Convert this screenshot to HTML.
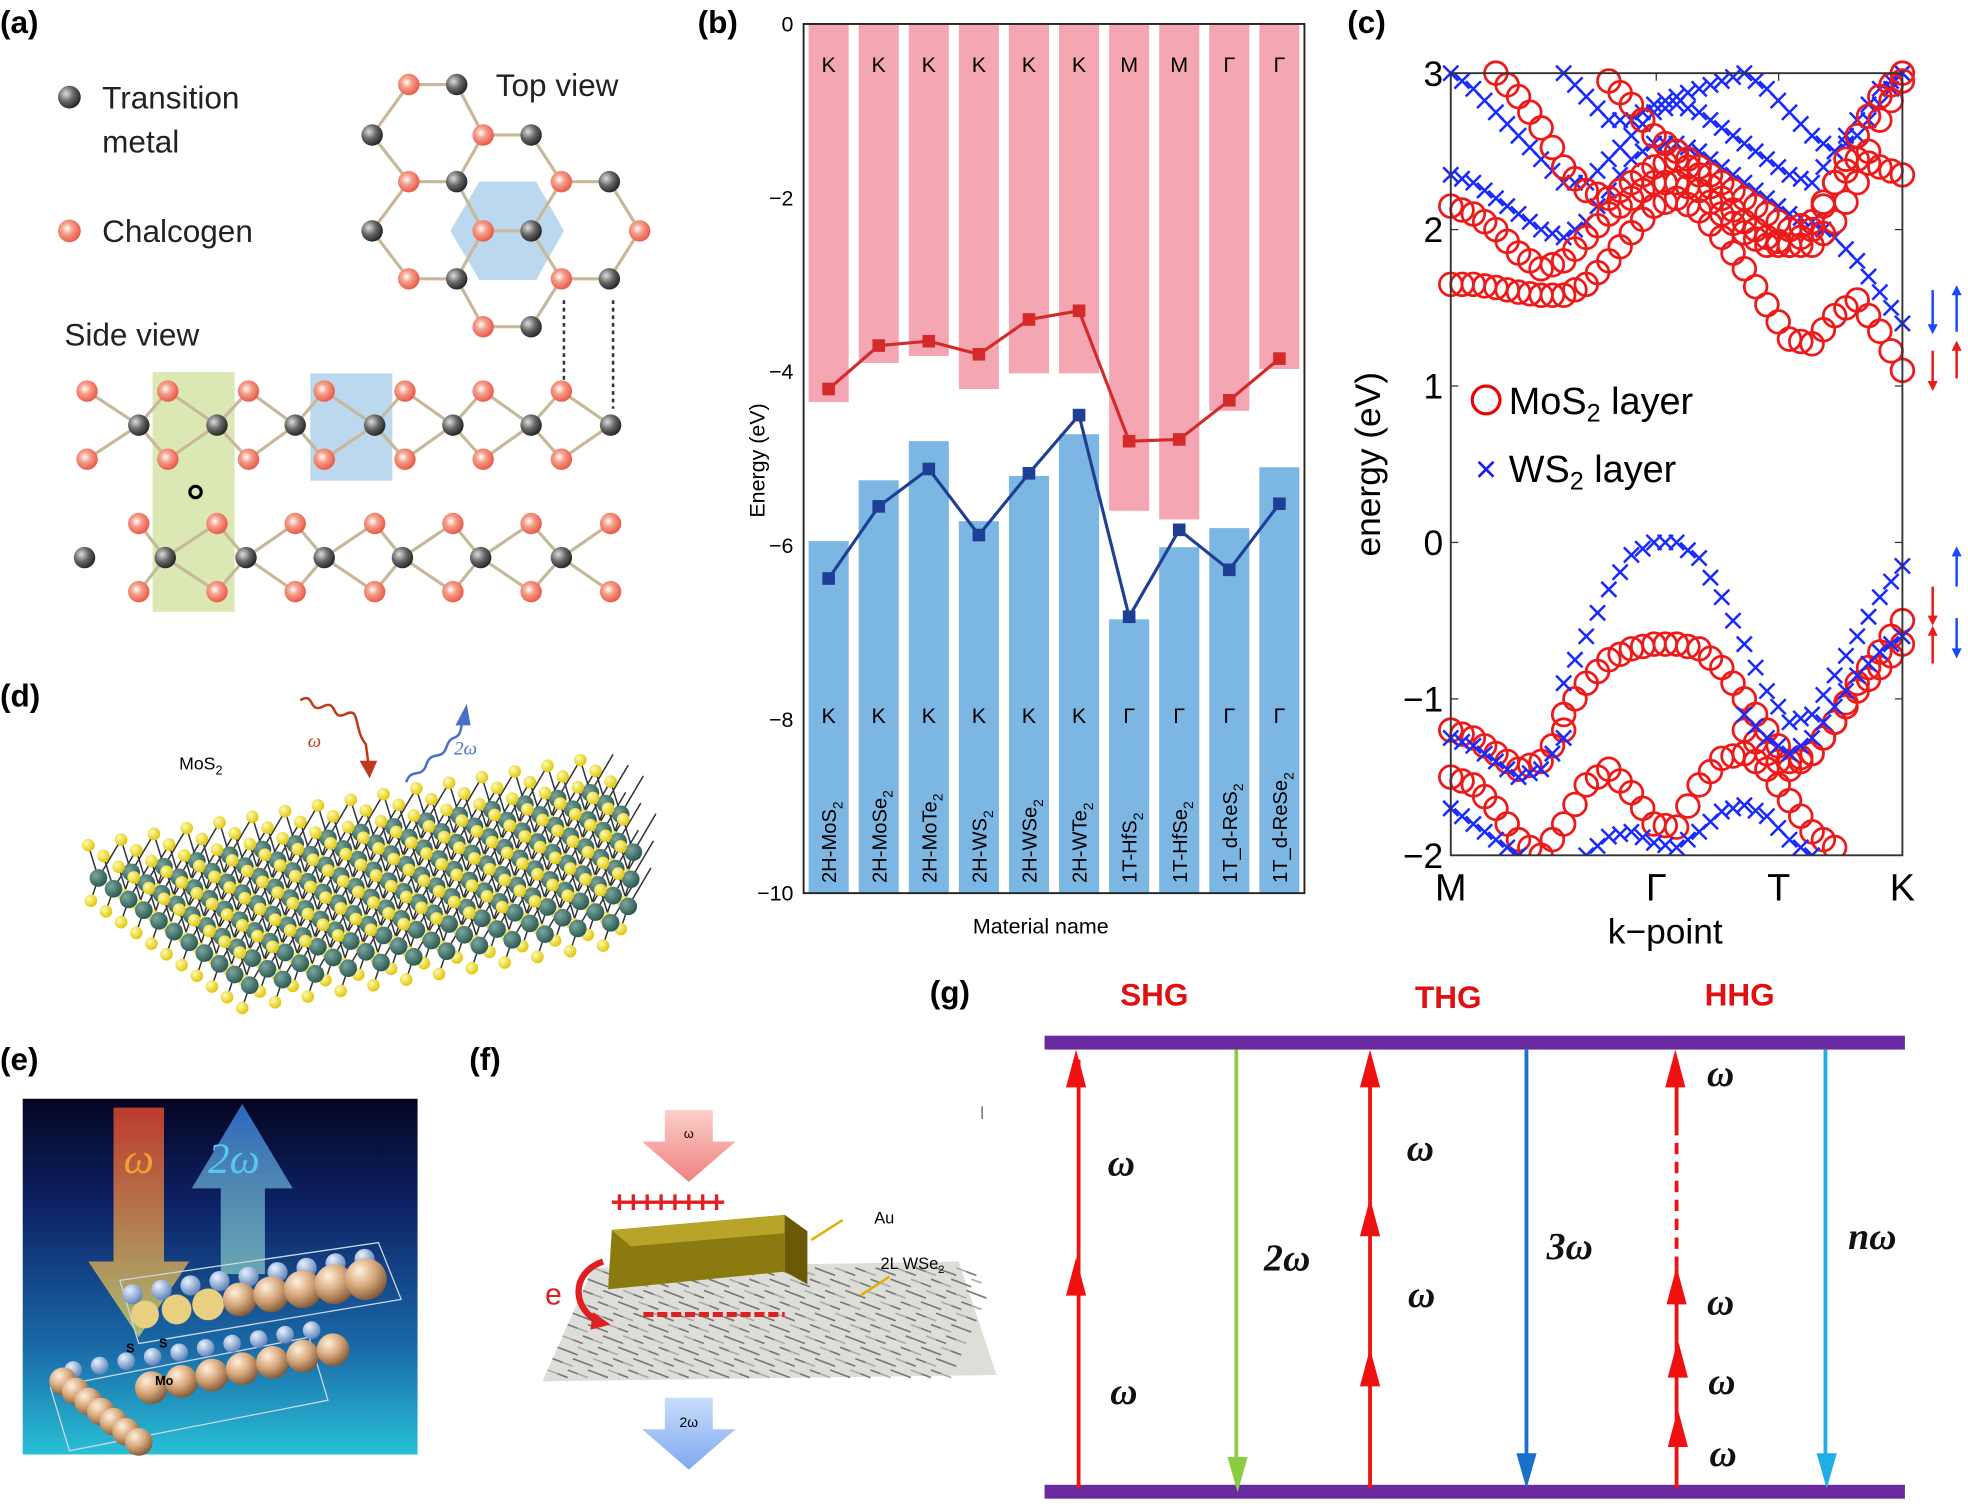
<!DOCTYPE html>
<html><head><meta charset="utf-8"><style>
html,body{margin:0;padding:0;background:#fff;}
svg{display:block;font-family:"Liberation Sans",sans-serif;}
</style></head><body>
<svg id="fig" width="1968" height="1507" viewBox="0 0 1560 1194.6" preserveAspectRatio="none" xmlns="http://www.w3.org/2000/svg">
<defs>
<radialGradient id="gBlack" cx="0.35" cy="0.35" r="0.7"><stop offset="0" stop-color="#ddd"/><stop offset="0.5" stop-color="#666"/><stop offset="1" stop-color="#222"/></radialGradient>
<radialGradient id="gRed" cx="0.4" cy="0.4" r="0.7"><stop offset="0" stop-color="#fff"/><stop offset="0.35" stop-color="#f4a08a"/><stop offset="1" stop-color="#e8483a"/></radialGradient>
<radialGradient id="gYel" cx="0.35" cy="0.35" r="0.7"><stop offset="0" stop-color="#fffbb0"/><stop offset="1" stop-color="#e0c400"/></radialGradient>
<radialGradient id="gTeal" cx="0.35" cy="0.35" r="0.7"><stop offset="0" stop-color="#7aa8a0"/><stop offset="1" stop-color="#2a5550"/></radialGradient>
<radialGradient id="gTan" cx="0.35" cy="0.3" r="0.75"><stop offset="0" stop-color="#fff0dd"/><stop offset="0.5" stop-color="#d8a87c"/><stop offset="1" stop-color="#7a5535"/></radialGradient>
<radialGradient id="gBlu" cx="0.35" cy="0.3" r="0.75"><stop offset="0" stop-color="#e8f2ff"/><stop offset="1" stop-color="#5a7fb5"/></radialGradient>
<linearGradient id="eBg" x1="0" y1="0" x2="0" y2="1"><stop offset="0" stop-color="#050522"/><stop offset="0.3" stop-color="#0d2266"/><stop offset="0.7" stop-color="#1a6aa8"/><stop offset="1" stop-color="#28c0d6"/></linearGradient>
<linearGradient id="eOr" x1="0" y1="0" x2="0" y2="1"><stop offset="0" stop-color="#d04030" stop-opacity="0.9"/><stop offset="1" stop-color="#e8e060" stop-opacity="0.7"/></linearGradient>
<linearGradient id="eBl" x1="0" y1="1" x2="0" y2="0"><stop offset="0" stop-color="#9ee8d0" stop-opacity="0.6"/><stop offset="1" stop-color="#3070d0" stop-opacity="0.9"/></linearGradient>
<linearGradient id="fPk" x1="0" y1="0" x2="0" y2="1"><stop offset="0" stop-color="#fbd0c8"/><stop offset="1" stop-color="#f08080"/></linearGradient>
<linearGradient id="fBl" x1="0" y1="0" x2="0" y2="1"><stop offset="0" stop-color="#c8dcfb"/><stop offset="1" stop-color="#7eaaf0"/></linearGradient>
</defs>

<!-- ===== Panel (a) ===== -->
<g id="panelA">
<text x="0" y="26" font-size="25" font-weight="bold">(a)</text>
<rect x="121" y="295" width="65" height="190" fill="#dbe8b4"/>
<rect x="246" y="296" width="65" height="85" fill="#bcd8ee"/>
<polygon points="357,183 380,144 425,144 447,183 425,222 380,222" fill="#bcd8ee"/>
<g id="aBonds"></g><g id="aAtoms"></g>
<line x1="447" y1="238" x2="447" y2="301" stroke="#333" stroke-width="2" stroke-dasharray="3,3"/>
<line x1="486" y1="238" x2="486" y2="324" stroke="#333" stroke-width="2" stroke-dasharray="3,3"/>
<circle cx="155" cy="390" r="4.5" fill="none" stroke="#000" stroke-width="2.5"/>
<circle cx="55" cy="77" r="9" fill="url(#gBlack)"/>
<text x="81" y="86" font-size="25" fill="#222">Transition</text>
<text x="81" y="121" font-size="25" fill="#222">metal</text>
<circle cx="55" cy="183" r="9" fill="url(#gRed)"/>
<text x="81" y="192" font-size="25" fill="#222">Chalcogen</text>
<text x="393" y="76" font-size="25" fill="#222">Top view</text>
<text x="51" y="274" font-size="25" fill="#222">Side view</text>
</g>

<!-- ===== Panel (b) ===== -->
<g id="panelB">
<text x="553" y="26" font-size="25" font-weight="bold">(b)</text>
<g id="bPlot"></g>
<text transform="translate(606,365) rotate(-90)" text-anchor="middle" font-size="17">Energy (eV)</text>
<text x="825" y="740" text-anchor="middle" font-size="17">Material name</text>
</g>

<!-- ===== Panel (c) ===== -->
<g id="panelC">
<text x="1068" y="26" font-size="25" font-weight="bold">(c)</text>
<g id="cPlot"></g>
<text transform="translate(1094,368) rotate(-90)" text-anchor="middle" font-size="28">energy (eV)</text>
<text x="1320" y="748" text-anchor="middle" font-size="28">k−point</text>
<g>
<circle cx="1178" cy="317" r="11" fill="none" stroke="#e00" stroke-width="2.5"/>
<text x="1196" y="328" font-size="30">MoS<tspan font-size="20" dy="6">2</tspan><tspan dy="-6"> layer</tspan></text>
<text x="1178" y="382" text-anchor="middle" font-size="30" fill="#1a1aff">×</text>
<text x="1196" y="382" font-size="30">WS<tspan font-size="20" dy="6">2</tspan><tspan dy="-6"> layer</tspan></text>
</g>
<g id="spinArrows"></g>
</g>

<!-- ===== Panel (d) ===== -->
<g id="panelD">
<text x="0" y="560" font-size="25" font-weight="bold">(d)</text>
<g id="dLattice"></g>
<text x="142" y="610" font-size="14">MoS<tspan font-size="10" dy="4">2</tspan></text>
<path d="M238,555 C250,548 244,566 256,560 C268,554 262,572 274,566 C286,560 280,578 290,590 L292,605" fill="none" stroke="#c0391b" stroke-width="2"/>
<polygon points="285,603 299,603 293,617" fill="#c0391b"/>
<path d="M322,620 C326,608 334,618 338,606 C342,594 350,604 354,592 C358,580 364,590 366,574" fill="none" stroke="#4a6fc8" stroke-width="2"/>
<polygon points="361,575 373,575 370,558" fill="#4a6fc8"/>
<text x="244" y="592" font-size="15" font-style="italic" fill="#c0391b" font-family="Liberation Serif,serif">ω</text>
<text x="360" y="598" font-size="15" font-style="italic" fill="#4a6fc8" font-family="Liberation Serif,serif">2ω</text>
</g>

<!-- ===== Panel (e) ===== -->
<g id="panelE">
<text x="0" y="848" font-size="25" font-weight="bold">(e)</text>
<rect x="18" y="871" width="313" height="282" fill="url(#eBg)"/>
<polygon points="90,878 130,878 130,1000 150,1000 110,1060 70,1000 90,1000" fill="url(#eOr)"/>
<polygon points="175,1010 210,1010 210,942 232,942 192,875 152,942 175,942" fill="url(#eBl)"/>
<text x="98" y="930" font-size="34" font-style="italic" fill="#f0a030" font-family="Liberation Serif,serif">ω</text>
<text x="165" y="930" font-size="34" font-style="italic" fill="#58c8f0" font-family="Liberation Serif,serif">2ω</text>
<g id="eBalls"></g>
<text x="100" y="1072" font-size="10" font-weight="bold">S</text>
<text x="126" y="1068" font-size="10" font-weight="bold">S</text>
<text x="123" y="1098" font-size="10" font-weight="bold">Mo</text>
</g>

<!-- ===== Panel (f) ===== -->
<g id="panelF">
<text x="372" y="848" font-size="25" font-weight="bold">(f)</text>
<polygon points="527,880 565,880 565,905 583,905 546,937 509,905 527,905" fill="url(#fPk)"/>
<text x="546" y="902" text-anchor="middle" font-size="10">ω</text>
<text x="484" y="961" font-size="24" font-weight="bold" fill="#e02020" letter-spacing="-3">++++++++</text>
<g id="fSheet"></g>
<polygon points="482,1022 485,975 622,963 622,1008" fill="#8a7a10"/>
<polygon points="485,975 622,963 640,976 500,988" fill="#b8a428"/>
<polygon points="622,963 640,976 640,1018 622,1008" fill="#6a5a08"/>
<line x1="510" y1="1042" x2="622" y2="1042" stroke="#e02020" stroke-width="4" stroke-dasharray="8,3"/>
<text x="432" y="1034" font-size="24" fill="#e02020">e</text>
<path d="M478,1000 C450,1010 455,1040 476,1048" fill="none" stroke="#e02020" stroke-width="5"/>
<polygon points="470,1040 484,1050 468,1054" fill="#e02020"/>
<line x1="668" y1="967" x2="643" y2="983" stroke="#e0b000" stroke-width="2"/>
<text x="693" y="970" font-size="13">Au</text>
<line x1="705" y1="1012" x2="682" y2="1027" stroke="#e0b000" stroke-width="2"/>
<text x="698" y="1006" font-size="13">2L WSe<tspan font-size="9" dy="3">2</tspan></text>
<polygon points="527,1108 565,1108 565,1133 583,1133 546,1165 509,1133 527,1133" fill="url(#fBl)"/>
<text x="546" y="1131" text-anchor="middle" font-size="11">2ω</text>
<rect x="778" y="877" width="1" height="10" fill="#555"/>
</g>

<!-- ===== Panel (g) ===== -->
<g id="panelG">
<text x="737" y="795" font-size="25" font-weight="bold">(g)</text>
<text x="915" y="797" text-anchor="middle" font-size="25" font-weight="bold" fill="#e01010">SHG</text>
<text x="1148" y="799" text-anchor="middle" font-size="25" font-weight="bold" fill="#e01010">THG</text>
<text x="1379" y="797" text-anchor="middle" font-size="25" font-weight="bold" fill="#e01010">HHG</text>
<rect x="828" y="821" width="682" height="11" fill="#6a2aa0"/>
<rect x="828" y="1177" width="682" height="11" fill="#6a2aa0"/>
<g id="gArrows"></g>
<g font-family="Liberation Serif,serif" font-style="italic" font-weight="bold" font-size="30" fill="#111">
<text x="878" y="932">ω</text>
<text x="880" y="1113">ω</text>
<text x="1002" y="1007">2ω</text>
<text x="1115" y="920">ω</text>
<text x="1116" y="1036">ω</text>
<text x="1226" y="998">3ω</text>
<text x="1353" y="861">ω</text>
<text x="1353" y="1042">ω</text>
<text x="1354" y="1105">ω</text>
<text x="1355" y="1162">ω</text>
<text x="1465" y="990">nω</text>
</g>
</g>
</svg>
<script>
var NS='http://www.w3.org/2000/svg';
function mk(tag,attrs,parent){var e=document.createElementNS(NS,tag);for(var k in attrs)e.setAttribute(k,attrs[k]);parent.appendChild(e);return e;}

/* ---------- Panel (b) data ---------- */
var bMaterials=['2H-MoS|2','2H-MoSe|2','2H-MoTe|2','2H-WS|2','2H-WSe|2','2H-WTe|2','1T-HfS|2','1T-HfSe|2','1T_d-ReS|2','1T_d-ReSe|2'];
var bCBBar=[-4.35,-3.9,-3.82,-4.2,-4.02,-4.02,-5.6,-5.7,-4.45,-3.97];
var bVBBar=[-5.95,-5.25,-4.8,-5.72,-5.2,-4.72,-6.85,-6.02,-5.8,-5.1];
var bCBLine=[-4.2,-3.7,-3.65,-3.8,-3.4,-3.3,-4.8,-4.78,-4.33,-3.85];
var bVBLine=[-6.38,-5.55,-5.12,-5.88,-5.17,-4.5,-6.82,-5.82,-6.28,-5.52];
var bCBk=['K','K','K','K','K','K','M','M','Γ','Γ'];
var bVBk=['K','K','K','K','K','K','Γ','Γ','Γ','Γ'];
var bTicks=[0,-2,-4,-6,-8,-10];

/* ---------- Panel (c) data ---------- */
var cKGrid=[0,0.05,0.1,0.15,0.2,0.25,0.3,0.35,0.4,0.45,0.5,0.55,0.6,0.65,0.7,0.75,0.8,0.85,0.9,0.95,1];
var cMoS2C1=[1.65,1.65,1.63,1.6,1.58,1.58,1.65,1.8,1.98,2.15,2.2,2.12,1.95,1.75,1.52,1.3,1.27,1.45,1.55,1.35,1.1];
var cMoS2C2=[2.15,2.1,2.0,1.85,1.75,1.8,1.95,2.1,2.2,2.3,2.3,2.25,2.1,1.98,1.9,1.9,2.0,2.3,2.45,2.4,2.35];
var cMoS2C3=[null,null,3.0,2.85,2.65,2.4,2.25,2.2,2.3,2.4,2.45,2.35,2.2,2.05,1.95,1.9,1.9,2.05,2.3,2.7,2.95];
var cMoS2C4=[null,null,null,null,null,null,null,2.95,2.8,2.6,2.5,2.4,2.3,2.2,2.1,2.0,2.05,2.3,2.6,2.85,3.0];
var cMoS2V1=[null,null,null,null,null,-1.1,-0.9,-0.75,-0.68,-0.65,-0.65,-0.68,-0.8,-1.0,-1.2,-1.4,-1.35,-1.15,-0.9,-0.7,-0.5];
var cMoS2V2=[-1.2,-1.25,-1.35,-1.45,-1.4,-1.2,null,null,null,null,null,null,null,-1.2,-1.35,-1.45,-1.35,-1.15,-0.95,-0.8,-0.65];
var cMoS2V3=[-1.5,-1.55,-1.7,-1.9,-2.0,-1.8,-1.55,-1.45,-1.6,-1.8,-1.82,-1.55,-1.38,-1.35,-1.45,-1.65,-1.85,-1.95,null,null,null];
var cWS2V1=[null,null,null,null,null,-0.9,-0.6,-0.3,-0.08,0,0,-0.1,-0.35,-0.65,-0.95,-1.15,-1.1,-0.85,-0.6,-0.35,-0.15];
var cWS2V2=[-1.25,-1.3,-1.4,-1.5,-1.45,-1.25,null,null,null,null,null,null,null,-1.1,-1.25,-1.35,-1.25,-1.05,-0.85,-0.7,-0.6];
var cWS2V3=[-1.7,-1.8,-1.9,-2.0,null,null,-2.0,-1.88,-1.85,-1.92,-1.95,-1.85,-1.72,-1.68,-1.75,-1.9,-2.0,null,null,null,null];
var cWS2C1=[2.35,2.3,2.2,2.1,2.0,1.95,2.05,2.25,2.45,2.55,2.55,2.5,2.4,2.3,2.2,2.1,2.05,1.95,1.8,1.6,1.4];
var cWS2C2=[3.0,2.9,2.75,2.6,2.45,2.3,2.3,2.45,2.6,2.75,2.8,2.75,2.65,2.55,2.45,2.35,2.3,2.5,2.7,2.9,3.0];
var cWS2C3=[null,null,null,null,null,3.0,2.85,2.7,2.7,2.8,2.85,2.9,2.95,3.0,2.9,2.75,2.6,2.5,2.6,2.8,3.0];
var cYTicks=[3,2,1,0,-1,-2];
var cKLabels=['M','Γ','T','K'];
var cKLabelPos=[0,0.455,0.726,1];

/* ---------- Panel (b) drawing ---------- */
(function(){
  var g=document.getElementById('bPlot');
  var L=637,R=1034,T=19,B=708;
  function y(v){return T+(0-v)/10*(B-T);}
  var slot=(R-L)/bMaterials.length;
  function xc(i){return L+slot*(i+0.5);}
  var bw=slot*0.8;
  for(var i=0;i<bMaterials.length;i++){
    var r=mk('rect',{x:xc(i)-bw/2,y:y(0),width:bw,height:y(bCBBar[i])-y(0),fill:'#f4a7b2'},g);
    
    
    var r2=mk('rect',{x:xc(i)-bw/2,y:y(bVBBar[i]),width:bw,height:y(-10)-y(bVBBar[i]),fill:'#7cb6e2'},g);
    
    
    var t1=mk('text',{x:xc(i),y:y(0)+38,'text-anchor':'middle','font-size':17},g);t1.textContent=bCBk[i];
    
    
    var t2=mk('text',{x:xc(i),y:y(-8)+3,'text-anchor':'middle','font-size':17},g);t2.textContent=bVBk[i];
    
    
    var parts=bMaterials[i].split('|');
    var tn=mk('text',{transform:'translate('+(xc(i)+6)+','+(B-8)+') rotate(-90)','font-size':16},g);
    
    
    tn.appendChild(document.createTextNode(parts[0]));
    var sub=mk('tspan',{dy:5,'font-size':11},tn);sub.textContent=parts[1];
  }
  function line(vals,col,nm){
    var d='';for(var i=0;i<vals.length;i++)d+=(i?'L':'M')+xc(i)+','+y(vals[i]);
    var p=mk('path',{d:d,fill:'none',stroke:col,'stroke-width':2.5},g);
    
    
    for(var j=0;j<vals.length;j++){
      var m=mk('rect',{x:xc(j)-5,y:y(vals[j])-5,width:10,height:10,fill:col},g);
      
      
    }
  }
  line(bCBLine,'#d42a2a','cbm');
  line(bVBLine,'#1f3f96','vbm');
  var ax=mk('rect',{x:L,y:T,width:R-L,height:B-T,fill:'none',stroke:'#222','stroke-width':1.5},g);
  
  
  bTicks.forEach(function(v){
    var t=mk('text',{x:L-8,y:y(v)+6,'text-anchor':'end','font-size':17},g);t.textContent=(v<0?'−':'')+Math.abs(v);
    
    
  });
})();

/* ---------- Panel (c) drawing ---------- */
(function(){
  var g=document.getElementById('cPlot');
  var L=1150,R=1508,T=58,B=678;
  function x(k){return L+k*(R-L);}
  function y(e){return T+(3-e)/5*(B-T);}
  function circles(arr,nm){
    arr.forEach(function(v,i){if(v===null)return;
      var c=mk('circle',{cx:x(cKGrid[i]),cy:y(v),r:9,fill:'none',stroke:'#ee1a1a','stroke-width':2.2},g);
      
      
      if(i<arr.length-1&&arr[i+1]!==null){
        var c2=mk('circle',{cx:(x(cKGrid[i])+x(cKGrid[i+1]))/2,cy:(y(v)+y(arr[i+1]))/2,r:9,fill:'none',stroke:'#ee1a1a','stroke-width':2.2},g);
        
        
      }
    });
  }
  function crosses(arr,nm){
    arr.forEach(function(v,i){if(v===null)return;
      function cr(cx,cy){
        var p=mk('path',{d:'M'+(cx-6)+','+(cy-6)+'L'+(cx+6)+','+(cy+6)+'M'+(cx-6)+','+(cy+6)+'L'+(cx+6)+','+(cy-6),stroke:'#1a2aff','stroke-width':2},g);
        
        
      }
      cr(x(cKGrid[i]),y(v));
      if(i<arr.length-1&&arr[i+1]!==null)cr((x(cKGrid[i])+x(cKGrid[i+1]))/2,(y(v)+y(arr[i+1]))/2);
    });
  }
  var clip=mk('clipPath',{id:'cClip'},g);mk('rect',{x:L-12,y:T-12,width:R-L+24,height:B-T+12},clip);
  var inner=mk('g',{'clip-path':'url(#cClip)'},g);
  var gg=g;g=inner;
  crosses(cWS2C3,'ws2-band-marker');crosses(cWS2C2,'ws2-band-marker');crosses(cWS2C1,'ws2-band-marker');
  circles(cMoS2C4,'mos2-band-marker');circles(cMoS2C3,'mos2-band-marker');circles(cMoS2C2,'mos2-band-marker');circles(cMoS2C1,'mos2-band-marker');
  circles(cMoS2V3,'mos2-band-marker');circles(cMoS2V2,'mos2-band-marker');circles(cMoS2V1,'mos2-band-marker');
  crosses(cWS2V3,'ws2-band-marker');crosses(cWS2V2,'ws2-band-marker');crosses(cWS2V1,'ws2-band-marker');
  g=gg;
  var f=mk('rect',{x:L,y:T,width:R-L,height:B-T,fill:'none',stroke:'#333','stroke-width':1.5},g);
  
  
  cYTicks.forEach(function(v){
    var t=mk('text',{x:L-6,y:y(v)+10,'text-anchor':'end','font-size':28},g);t.textContent=(v<0?'−':'')+Math.abs(v);
    
    
    mk('line',{x1:L,x2:L+6,y1:y(v),y2:y(v),stroke:'#333'},g);
    mk('line',{x1:R,x2:R-6,y1:y(v),y2:y(v),stroke:'#333'},g);
  });
  cKLabels.forEach(function(s,i){
    var t=mk('text',{x:x(cKLabelPos[i]),y:B+36,'text-anchor':'middle','font-size':30},g);t.textContent=s;
    
    
    mk('line',{x1:x(cKLabelPos[i]),x2:x(cKLabelPos[i]),y1:T,y2:T+6,stroke:'#333'},g);
  });
  var sa=document.getElementById('spinArrows');
  function arr(xx,y1,y2,col){
    var up=y2<y1;
    mk('line',{x1:xx,x2:xx,y1:y1,y2:y2+(up?6:-6),stroke:col,'stroke-width':2},sa);
    var p=mk('polygon',{points:(xx-4)+','+(y2+(up?8:-8))+' '+(xx+4)+','+(y2+(up?8:-8))+' '+xx+','+y2,fill:col},sa);
    
    
  }
  arr(1532,230,265,'#1a4aff');arr(1551,263,226,'#1a4aff');
  arr(1532,278,310,'#ee1a1a');arr(1551,300,270,'#ee1a1a');
  arr(1551,465,433,'#1a4aff');arr(1532,465,496,'#ee1a1a');
  arr(1532,526,496,'#ee1a1a');arr(1551,490,522,'#1a4aff');
})();

/* ---------- Panel (a) atoms ---------- */
(function(){
  var bonds=document.getElementById('aBonds'),atoms=document.getElementById('aAtoms');
  var top=[[324,67,'r'],[362,67,'b'],[295,107,'b'],[383,107,'r'],[421,107,'b'],[324,144,'r'],[362,144,'b'],[445,144,'r'],[483,144,'b'],
   [295,183,'b'],[383,183,'r'],[421,183,'b'],[507,183,'r'],[324,221,'r'],[362,221,'b'],[445,221,'r'],[483,221,'b'],[383,259,'r'],[421,259,'b']];
  var rx=[69,133,197,257,321,383,445],bx=[110,172,234,297,359,421,484],bx2=[67,131,195,257,319,381,445];
  var side=[];
  rx.forEach(function(v){side.push([v,310,'r']);side.push([v,364,'r']);});
  bx.forEach(function(v){side.push([v,337,'b']);});
  bx2.forEach(function(v){side.push([v,442,'b']);});
  bx.forEach(function(v){side.push([v,415,'r']);side.push([v,469,'r']);});
  function doBonds(list,maxd){
    for(var i=0;i<list.length;i++)for(var j=i+1;j<list.length;j++){
      if(list[i][2]===list[j][2])continue;
      var d=Math.hypot(list[i][0]-list[j][0],list[i][1]-list[j][1]);
      if(d<maxd)mk('line',{x1:list[i][0],y1:list[i][1],x2:list[j][0],y2:list[j][1],stroke:'#c8b89a','stroke-width':2.5},bonds);
    }
  }
  doBonds(top,52);doBonds(side,50);
  top.concat(side).forEach(function(a){
    var c=mk('circle',{cx:a[0],cy:a[1],r:8.5,fill:a[2]==='b'?'url(#gBlack)':'url(#gRed)'},atoms);
    
    
  });
})();

/* ---------- Panel (d) lattice ---------- */
(function(){
  var g=document.getElementById('dLattice');
  function P(i,j){return [70+i*26+j*12, 690-i*4.5+j*8.5];}
  var pts=[];
  for(var j=0;j<11;j++)for(var i=0;i<16;i++){
    var p=P(i,j);var top=[p[0],p[1]-20],mo=[p[0]+8,p[1]+6];
    if(p[0]>495||p[1]<590||p[1]>790)continue;
    pts.push(p);
    mk('line',{x1:top[0],y1:top[1],x2:mo[0],y2:mo[1],stroke:'#333','stroke-width':1.2},g);
    mk('line',{x1:p[0]+26,y1:p[1]-24.5,x2:mo[0],y2:mo[1],stroke:'#333','stroke-width':1.2},g);
    mk('line',{x1:mo[0],y1:mo[1],x2:p[0]+2,y2:p[1]+24,stroke:'#333','stroke-width':1.2},g);
  }
  pts.forEach(function(p){
    var a=mk('circle',{cx:p[0]+8,cy:p[1]+6,r:7,fill:'url(#gTeal)'},g);
    
    
    var b=mk('circle',{cx:p[0],cy:p[1]-20,r:5,fill:'url(#gYel)'},g);
    
    
    var c=mk('circle',{cx:p[0]+2,cy:p[1]+24,r:5,fill:'url(#gYel)'},g);
    
    
  });
})();

/* ---------- Panel (e) balls ---------- */
(function(){
  var g=document.getElementById('eBalls');
  mk('polygon',{points:'95,1015 300,985 318,1030 110,1065',fill:'none',stroke:'#cfd8e8','stroke-width':1},g);
  mk('polygon',{points:'40,1100 245,1060 260,1110 55,1150',fill:'none',stroke:'#cfd8e8','stroke-width':1},g);
  for(var i=0;i<9;i++){var c=mk('circle',{cx:105+i*23,cy:1026-i*3.5,r:8,fill:'url(#gBlu)'},g);}
  for(var i=0;i<8;i++){var c=mk('circle',{cx:115+i*25,cy:1042-i*4,r:11+i*0.8,fill:i<3?'#e8d080':'url(#gTan)'},g);}
  for(var i=0;i<10;i++){var c=mk('circle',{cx:58+i*21,cy:1086-i*3.5,r:7,fill:'url(#gBlu)'},g);}
  for(var i=0;i<7;i++){var c=mk('circle',{cx:50+i*10,cy:1095+i*8,r:11,fill:'url(#gTan)'},g);}
  for(var i=0;i<7;i++){var c=mk('circle',{cx:120+i*24,cy:1100-i*5,r:13,fill:'url(#gTan)'},g);}
})();

/* ---------- Panel (f) sheet ---------- */
(function(){
  var g=document.getElementById('fSheet');
  mk('polygon',{points:'430,1095 790,1090 760,1000 470,1005',fill:'#c8c8c0',opacity:'0.6'},g);
  for(var r=0;r<10;r++)for(var c=0;c<40;c++){
    var x=470-r*4+c*8,y=1005+r*9+(c%2)*3;
    if(x>770+r*2)continue;
    mk('line',{x1:x,y1:y,x2:x+8,y2:y+3,stroke:(r+c)%3?'#777':'#aaa','stroke-width':1.3},g);
  }
})();

/* ---------- Panel (g) arrows ---------- */
(function(){
  var g=document.getElementById('gArrows');
  function shaft(x,y1,y2,col,w,dash){var l=mk('line',{x1:x,x2:x,y1:y1,y2:y2,stroke:col,'stroke-width':w},g);if(dash)l.setAttribute('stroke-dasharray',dash);}
  function headUp(x,y,col){var p=mk('polygon',{points:(x-8)+','+(y+30)+' '+(x+8)+','+(y+30)+' '+x+','+y,fill:col},g);}
  function headDn(x,y,col){var p=mk('polygon',{points:(x-8)+','+(y-28)+' '+(x+8)+','+(y-28)+' '+x+','+y,fill:col},g);}
  var red='#f01010';
  shaft(855,1180,840,red,3);headUp(853,832,red);headUp(853,997,red);
  shaft(980,832,1160,'#8ccc40',3);headDn(981,1183,'#8ccc40');
  shaft(1086,1180,840,red,3);headUp(1086,832,red);headUp(1086,950,red);headUp(1086,1069,red);
  shaft(1210,832,1160,'#1870c8',3);headDn(1210,1180,'#1870c8');
  shaft(1329,1180,1005,red,3);shaft(1329,1005,895,red,3,'9,6');shaft(1329,895,840,red,3);
  headUp(1328,832,red);headUp(1329,1004,red);headUp(1330,1062,red);headUp(1330,1117,red);
  shaft(1447,832,1160,'#20aee8',3);headDn(1448,1180,'#20aee8');
})();
</script>
</body></html>
